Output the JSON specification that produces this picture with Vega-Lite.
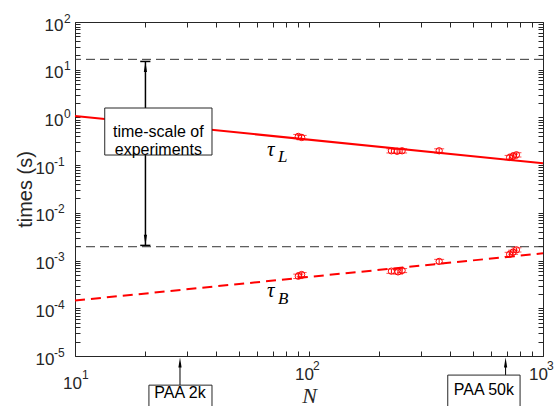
{
  "$schema": "https://vega.github.io/schema/vega-lite/v6.json",
  "width": 468,
  "height": 334,
  "autosize": {"type": "none"},
  "padding": {"left": 75, "top": 22, "right": 13, "bottom": 50},
  "config": {"view": {"stroke": "#262626", "strokeWidth": 1}},
  "datasets": {
    "pts": [
      {"N": 90, "t": 0.40, "lo": 0.36, "hi": 0.44},
      {"N": 93, "t": 0.38, "lo": 0.34, "hi": 0.42},
      {"N": 225, "t": 0.20, "lo": 0.18, "hi": 0.22},
      {"N": 238, "t": 0.195, "lo": 0.176, "hi": 0.214},
      {"N": 250, "t": 0.20, "lo": 0.18, "hi": 0.22},
      {"N": 360, "t": 0.20, "lo": 0.18, "hi": 0.22},
      {"N": 720, "t": 0.145, "lo": 0.13, "hi": 0.16},
      {"N": 745, "t": 0.155, "lo": 0.14, "hi": 0.17},
      {"N": 770, "t": 0.165, "lo": 0.148, "hi": 0.182},
      {"N": 90, "t": 0.00047, "lo": 0.00042, "hi": 0.00052},
      {"N": 93, "t": 0.00051, "lo": 0.00046, "hi": 0.00056},
      {"N": 225, "t": 0.00060, "lo": 0.00054, "hi": 0.00066},
      {"N": 240, "t": 0.00058, "lo": 0.00052, "hi": 0.00064},
      {"N": 250, "t": 0.00062, "lo": 0.00056, "hi": 0.00068},
      {"N": 360, "t": 0.00096, "lo": 0.00086, "hi": 0.00106},
      {"N": 720, "t": 0.00135, "lo": 0.00122, "hi": 0.00149},
      {"N": 745, "t": 0.0015, "lo": 0.00135, "hi": 0.00165},
      {"N": 770, "t": 0.00168, "lo": 0.00151, "hi": 0.00185}
    ]
  },
  "resolve": {"axis": {"x": "independent", "y": "independent"}},
  "layer": [
    {
      "data": {"values": [{"N": 10, "t": 1.07}, {"N": 1000, "t": 0.109}]},
      "mark": {"type": "line", "color": "#ff0000", "strokeWidth": 2},
      "encoding": {
        "x": {"field": "N", "type": "quantitative", "scale": {"type": "log", "domain": [10, 1000], "nice": false},
          "axis": {"orient": "bottom", "values": [10,20,30,40,50,60,70,80,90,100,200,300,400,500,600,700,800,900,1000],
            "labelExpr": "(datum.value == 10 || datum.value == 100 || datum.value == 1000) ? '10' : ''",
            "domain": false, "gridOpacity": 0, "tickSize": 5, "offset": -5, "tickColor": "#262626", "tickWidth": 1,
            "labelOverlap": false, "labelFlush": false, "labelFont": "Liberation Sans", "labelFontSize": 17, "labelColor": "#262626",
            "labelPadding": {"condition": {"test": "datum.value == 10", "value": 19}, "value": 10},
            "labelOffset": {"condition": {"test": "datum.value == 10", "value": -3}, "value": -5},
            "title": "N", "titleFont": "Liberation Serif", "titleFontStyle": "italic", "titleFontWeight": "normal", "titleFontSize": 22, "titleColor": "#262626",
            "titleY": 51, "titleBaseline": "alphabetic"}},
        "y": {"field": "t", "type": "quantitative", "scale": {"type": "log", "domain": [0.00001, 100], "nice": false},
          "axis": {"orient": "left", "values": [0.00001,0.00002,0.00003,0.00004,0.00005,0.00006,0.00007,0.00008,0.00009,0.0001,0.0002,0.0003,0.0004,0.0005,0.0006,0.0007,0.0008,0.0009,0.001,0.002,0.003,0.004,0.005,0.006,0.007,0.008,0.009,0.01,0.02,0.03,0.04,0.05,0.06,0.07,0.08,0.09,0.1,0.2,0.3,0.4,0.5,0.6,0.7,0.8,0.9,1,2,3,4,5,6,7,8,9,10,20,30,40,50,60,70,80,90,100],
            "labelExpr": "indexof([0.00001,0.0001,0.001,0.01,0.1,1,10,100], datum.value) >= 0 ? '10' : ''",
            "domain": false, "gridOpacity": 0, "tickSize": 5, "offset": -5, "tickColor": "#262626", "tickWidth": 1,
            "labelOverlap": false, "labelFlush": false, "labelFont": "Liberation Sans", "labelFontSize": 17, "labelColor": "#262626",
            "labelPadding": {"condition": {"test": "datum.value < 0.5", "value": 21}, "value": 12}, "labelOffset": 3,
            "title": "times (s)", "titleFont": "Liberation Sans", "titleFontWeight": "normal", "titleFontSize": 20, "titleColor": "#262626",
            "titleX": -49, "titleY": 167, "titleBaseline": "alphabetic", "titleAngle": -90}}
      }
    },
    {
      "data": {"values": [{"N": 10, "t": 0.000145}, {"N": 1000, "t": 0.00142}]},
      "mark": {"type": "line", "color": "#ff0000", "strokeWidth": 2, "strokeDash": [10, 6]},
      "encoding": {
        "x": {"field": "N", "type": "quantitative", "scale": {"type": "log", "domain": [10, 1000], "nice": false},
          "axis": {"orient": "top", "values": [10,20,30,40,50,60,70,80,90,100,200,300,400,500,600,700,800,900,1000],
            "labelExpr": "''", "title": null, "domain": false, "gridOpacity": 0, "tickSize": 5, "offset": -5, "tickColor": "#262626", "tickWidth": 1}},
        "y": {"field": "t", "type": "quantitative", "scale": {"type": "log", "domain": [0.00001, 100], "nice": false},
          "axis": {"orient": "right", "values": [0.00001,0.00002,0.00003,0.00004,0.00005,0.00006,0.00007,0.00008,0.00009,0.0001,0.0002,0.0003,0.0004,0.0005,0.0006,0.0007,0.0008,0.0009,0.001,0.002,0.003,0.004,0.005,0.006,0.007,0.008,0.009,0.01,0.02,0.03,0.04,0.05,0.06,0.07,0.08,0.09,0.1,0.2,0.3,0.4,0.5,0.6,0.7,0.8,0.9,1,2,3,4,5,6,7,8,9,10,20,30,40,50,60,70,80,90,100],
            "labelExpr": "''", "title": null, "domain": false, "gridOpacity": 0, "tickSize": 5, "offset": -5, "tickColor": "#262626", "tickWidth": 1}}
      }
    },
    {
      "data": {"values": [{"t": 16.5}, {"t": 0.00195}]},
      "mark": {"type": "rule", "color": "#333333", "strokeWidth": 1, "strokeDash": [9, 5]},
      "encoding": {"y": {"field": "t", "type": "quantitative", "scale": {"type": "log", "domain": [0.00001, 100], "nice": false}, "axis": null}}
    },
    {
      "data": {"name": "pts"},
      "mark": {"type": "errorbar", "color": "#ff0000", "thickness": 1, "ticks": {"size": 10}},
      "encoding": {
        "x": {"field": "N", "type": "quantitative", "scale": {"type": "log", "domain": [10, 1000], "nice": false}, "axis": null},
        "y": {"field": "lo", "type": "quantitative", "scale": {"type": "log", "domain": [0.00001, 100], "nice": false}, "axis": null},
        "y2": {"field": "hi"}
      }
    },
    {
      "data": {"name": "pts"},
      "mark": {"type": "point", "shape": "circle", "filled": false, "color": "#ff0000", "size": 40, "strokeWidth": 1, "opacity": 1},
      "encoding": {
        "x": {"field": "N", "type": "quantitative", "scale": {"type": "log", "domain": [10, 1000], "nice": false}, "axis": null},
        "y": {"field": "t", "type": "quantitative", "scale": {"type": "log", "domain": [0.00001, 100], "nice": false}, "axis": null}
      }
    },
    {
      "data": {"values": [{"N": 20, "top": 14.9, "bottom": 0.00208}]},
      "mark": {"type": "rule", "color": "black", "strokeWidth": 1.5},
      "encoding": {
        "x": {"field": "N", "type": "quantitative", "scale": {"type": "log", "domain": [10, 1000], "nice": false}, "axis": null},
        "y": {"field": "top", "type": "quantitative", "scale": {"type": "log", "domain": [0.00001, 100], "nice": false}, "axis": null},
        "y2": {"field": "bottom"}
      }
    },
    {
      "data": {"values": [{"a": 19, "b": 21, "t": 14.9}, {"a": 19, "b": 21, "t": 0.00208}]},
      "mark": {"type": "rule", "color": "black", "strokeWidth": 1.5},
      "encoding": {
        "x": {"field": "a", "type": "quantitative", "scale": {"type": "log", "domain": [10, 1000], "nice": false}, "axis": null},
        "x2": {"field": "b"},
        "y": {"field": "t", "type": "quantitative", "scale": {"type": "log", "domain": [0.00001, 100], "nice": false}, "axis": null}
      }
    },
    {
      "data": {"values": [{"N": 20, "t": 11.4}, {"N": 28.1, "t": 0.00000728}, {"N": 692, "t": 0.00000728}]},
      "mark": {"type": "point", "shape": "M0,-1L0.32,1L-0.32,1Z", "filled": true, "color": "black", "size": 100, "opacity": 1, "clip": false},
      "encoding": {
        "x": {"field": "N", "type": "quantitative", "scale": {"type": "log", "domain": [10, 1000], "nice": false}, "axis": null},
        "y": {"field": "t", "type": "quantitative", "scale": {"type": "log", "domain": [0.00001, 100], "nice": false}, "axis": null}
      }
    },
    {
      "data": {"values": [{"N": 20, "t": 0.00273}]},
      "mark": {"type": "point", "shape": "M0,1L0.32,-1L-0.32,-1Z", "filled": true, "color": "black", "size": 100, "opacity": 1},
      "encoding": {
        "x": {"field": "N", "type": "quantitative", "scale": {"type": "log", "domain": [10, 1000], "nice": false}, "axis": null},
        "y": {"field": "t", "type": "quantitative", "scale": {"type": "log", "domain": [0.00001, 100], "nice": false}, "axis": null}
      }
    },
    {
      "data": {"values": [{"N": 28.1, "top": 0.0000072, "bottom": 0.00000245}, {"N": 692, "top": 0.0000072, "bottom": 0.00000398}]},
      "mark": {"type": "rule", "color": "black", "strokeWidth": 1, "clip": false},
      "encoding": {
        "x": {"field": "N", "type": "quantitative", "scale": {"type": "log", "domain": [10, 1000], "nice": false}, "axis": null},
        "y": {"field": "top", "type": "quantitative", "scale": {"type": "log", "domain": [0.00001, 100], "nice": false}, "axis": null},
        "y2": {"field": "bottom"}
      }
    },
    {
      "data": {"values": [
        {"x1": 13.4, "x2": 38.5, "y1": 1.575, "y2": 0.163},
        {"x1": 20.7, "x2": 38.5, "y1": 0.00000245, "y2": 0.00000046},
        {"x1": 391.7, "x2": 798, "y1": 0.00000398, "y2": 0.00000046}
      ]},
      "mark": {"type": "rect", "fill": "white", "stroke": "#262626", "strokeWidth": 1, "clip": false},
      "encoding": {
        "x": {"field": "x1", "type": "quantitative", "scale": {"type": "log", "domain": [10, 1000], "nice": false}, "axis": null},
        "x2": {"field": "x2"},
        "y": {"field": "y1", "type": "quantitative", "scale": {"type": "log", "domain": [0.00001, 100], "nice": false}, "axis": null},
        "y2": {"field": "y2"}
      }
    },
    {
      "data": {"values": [
        {"N": 22.7, "t": 0.506, "label": "time-scale of\nexperiments"},
        {"N": 28.1, "t": 0.00000171, "label": "PAA 2k"},
        {"N": 559, "t": 0.00000193, "label": "PAA 50k"}
      ]},
      "mark": {"type": "text", "font": "Liberation Sans", "fontSize": 16, "color": "black", "align": "center", "baseline": "middle", "lineBreak": "\n", "lineHeight": 18, "clip": false},
      "encoding": {
        "x": {"field": "N", "type": "quantitative", "scale": {"type": "log", "domain": [10, 1000], "nice": false}, "axis": null},
        "y": {"field": "t", "type": "quantitative", "scale": {"type": "log", "domain": [0.00001, 100], "nice": false}, "axis": null},
        "text": {"field": "label"}
      }
    },
    {
      "data": {"values": [{"N": 66.2, "t": 0.155, "label": "τ"}, {"N": 66.2, "t": 0.000172, "label": "τ"}]},
      "mark": {"type": "text", "font": "Liberation Serif", "fontStyle": "italic", "fontSize": 21, "color": "black", "align": "left", "baseline": "alphabetic"},
      "encoding": {
        "x": {"field": "N", "type": "quantitative", "scale": {"type": "log", "domain": [10, 1000], "nice": false}, "axis": null},
        "y": {"field": "t", "type": "quantitative", "scale": {"type": "log", "domain": [0.00001, 100], "nice": false}, "axis": null},
        "text": {"field": "label"}
      }
    },
    {
      "data": {"values": [{"N": 73.7, "t": 0.116, "label": "L"}, {"N": 73.7, "t": 0.000122, "label": "B"}]},
      "mark": {"type": "text", "font": "Liberation Serif", "fontStyle": "italic", "fontSize": 17, "color": "black", "align": "left", "baseline": "alphabetic"},
      "encoding": {
        "x": {"field": "N", "type": "quantitative", "scale": {"type": "log", "domain": [10, 1000], "nice": false}, "axis": null},
        "y": {"field": "t", "type": "quantitative", "scale": {"type": "log", "domain": [0.00001, 100], "nice": false}, "axis": null},
        "text": {"field": "label"}
      }
    },
    {
      "data": {"values": [{"t": 100, "e": "2"}, {"t": 10, "e": "1"}, {"t": 1, "e": "0"}]},
      "mark": {"type": "text", "font": "Liberation Sans", "fontSize": 12, "color": "#262626", "align": "left", "baseline": "middle", "dx": -11, "dy": -3.5},
      "encoding": {
        "x": {"datum": 10, "type": "quantitative", "scale": {"type": "log", "domain": [10, 1000], "nice": false}, "axis": null},
        "y": {"field": "t", "type": "quantitative", "scale": {"type": "log", "domain": [0.00001, 100], "nice": false}, "axis": null},
        "text": {"field": "e"}
      }
    },
    {
      "data": {"values": [{"t": 0.1, "e": "-1"}, {"t": 0.01, "e": "-2"}, {"t": 0.001, "e": "-3"}, {"t": 0.0001, "e": "-4"}, {"t": 0.00001, "e": "-5"}]},
      "mark": {"type": "text", "font": "Liberation Sans", "fontSize": 12, "color": "#262626", "align": "left", "baseline": "middle", "dx": -21, "dy": -3.5},
      "encoding": {
        "x": {"datum": 10, "type": "quantitative", "scale": {"type": "log", "domain": [10, 1000], "nice": false}, "axis": null},
        "y": {"field": "t", "type": "quantitative", "scale": {"type": "log", "domain": [0.00001, 100], "nice": false}, "axis": null},
        "text": {"field": "e"}
      }
    },
    {
      "data": {"values": [{"N": 100, "e": "2"}, {"N": 1000, "e": "3"}]},
      "mark": {"type": "text", "font": "Liberation Sans", "fontSize": 12, "color": "#262626", "align": "left", "baseline": "middle", "dx": 4, "dy": 10, "clip": false},
      "encoding": {
        "x": {"field": "N", "type": "quantitative", "scale": {"type": "log", "domain": [10, 1000], "nice": false}, "axis": null},
        "y": {"datum": 0.00001, "type": "quantitative", "scale": {"type": "log", "domain": [0.00001, 100], "nice": false}, "axis": null},
        "text": {"field": "e"}
      }
    },
    {
      "data": {"values": [{"N": 10, "e": "1"}]},
      "mark": {"type": "text", "font": "Liberation Sans", "fontSize": 12, "color": "#262626", "align": "left", "baseline": "middle", "dx": 7, "dy": 19, "clip": false},
      "encoding": {
        "x": {"field": "N", "type": "quantitative", "scale": {"type": "log", "domain": [10, 1000], "nice": false}, "axis": null},
        "y": {"datum": 0.00001, "type": "quantitative", "scale": {"type": "log", "domain": [0.00001, 100], "nice": false}, "axis": null},
        "text": {"field": "e"}
      }
    }
  ]
}
